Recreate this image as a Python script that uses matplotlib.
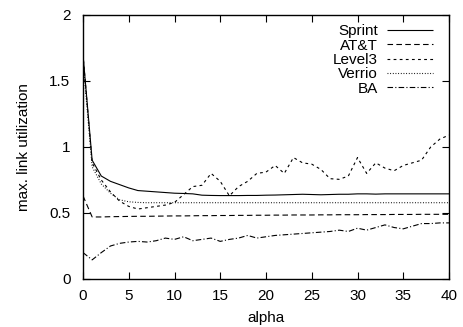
import matplotlib
matplotlib.use("Agg")
import matplotlib.pyplot as plt

plt.rcParams['font.family'] = ['Liberation Sans', 'DejaVu Sans']

alpha = [0, 1, 2, 3, 4, 5, 6, 7, 8, 9, 10, 11, 12, 13, 14, 15, 16, 17, 18, 19, 20,
         21, 22, 23, 24, 25, 26, 27, 28, 29, 30, 31, 32, 33, 34, 35, 36, 37, 38, 39, 40]

sprint = [1.70, 0.90, 0.78, 0.74, 0.715, 0.69, 0.67, 0.665, 0.66, 0.655, 0.65, 0.648, 0.645, 0.635, 0.633,
          0.632, 0.632, 0.632, 0.633, 0.633, 0.635, 0.636, 0.638, 0.64, 0.642, 0.64, 0.638, 0.64, 0.642,
          0.642, 0.645, 0.645, 0.643, 0.645, 0.645, 0.645, 0.645, 0.645, 0.645, 0.645, 0.645]
att = [0.63, 0.47, 0.47, 0.472, 0.473, 0.474, 0.475, 0.475, 0.476, 0.477, 0.478, 0.478, 0.479, 0.48, 0.48,
       0.481, 0.481, 0.482, 0.482, 0.483, 0.483, 0.484, 0.484, 0.485, 0.485, 0.485, 0.486, 0.486, 0.487,
       0.487, 0.487, 0.488, 0.488, 0.488, 0.489, 0.489, 0.489, 0.49, 0.49, 0.49, 0.49]
level3 = [1.70, 0.88, 0.75, 0.66, 0.59, 0.55, 0.53, 0.54, 0.55, 0.56, 0.58, 0.64, 0.70, 0.71, 0.80, 0.74,
          0.63, 0.70, 0.74, 0.80, 0.81, 0.86, 0.80, 0.92, 0.88, 0.87, 0.83, 0.76, 0.755, 0.78, 0.92,
          0.80, 0.88, 0.84, 0.82, 0.86, 0.88, 0.90, 1.00, 1.06, 1.09]
verrio = [1.65, 0.85, 0.72, 0.65, 0.60, 0.585, 0.58, 0.578, 0.578, 0.578, 0.578, 0.578, 0.578, 0.578, 0.578,
          0.578, 0.578, 0.578, 0.578, 0.578, 0.578, 0.578, 0.578, 0.578, 0.578, 0.578, 0.578, 0.578, 0.578,
          0.578, 0.578, 0.578, 0.578, 0.578, 0.578, 0.578, 0.578, 0.578, 0.578, 0.578, 0.578]
ba = [0.20, 0.145, 0.20, 0.25, 0.27, 0.28, 0.285, 0.28, 0.29, 0.31, 0.30, 0.32, 0.29, 0.30, 0.31, 0.285,
      0.30, 0.31, 0.33, 0.31, 0.32, 0.33, 0.335, 0.34, 0.345, 0.35, 0.355, 0.36, 0.37, 0.36, 0.385,
      0.37, 0.39, 0.41, 0.39, 0.38, 0.40, 0.42, 0.42, 0.425, 0.425]

series = [("Sprint", sprint, (0, ())),
          ("AT&T", att, (0, (5, 3))),
          ("Level3", level3, (0, (2.5, 3))),
          ("Verrio", verrio, (0, (0.8, 1.6))),
          ("BA", ba, (0, (5, 2, 1, 2)))]

xticks = [0, 5, 10, 15, 20, 25, 30, 35, 40]
yticks = [0, 0.5, 1, 1.5, 2]
ytick_labels = ["0", "0.5", "1", "1.5", "2"]

fig = plt.figure(figsize=(4.64, 3.27), dpi=100)
ax = fig.add_axes([83/464, 48/327, 366/464, 264/327])

for name, vals, ls in series:
    ax.plot(alpha, vals, color='black', linewidth=0.8, linestyle=ls, label=name)

ax.set_xlim(0, 40)
ax.set_ylim(0, 2)
ax.set_xticks(xticks)
ax.set_xticklabels([str(t) for t in xticks])
ax.set_yticks(yticks)
ax.set_yticklabels(ytick_labels)
ax.tick_params(direction='in', length=5, width=0.8, top=True, right=True, labelsize=11)
ax.tick_params(axis='y', pad=9)
ax.tick_params(axis='x', pad=7)
for s in ax.spines.values():
    s.set_linewidth(1.0)

ax.set_xlabel("alpha", fontsize=11, labelpad=6)
ax.set_ylabel("max. link utilization", fontsize=11, labelpad=13)

leg = ax.legend(loc='upper right', frameon=False, markerfirst=False, fontsize=11,
                handlelength=3.0, handletextpad=0.6, labelspacing=0.02,
                bbox_to_anchor=(0.985, 1.005), borderaxespad=0.3)
for t in leg.get_texts():
    t.set_ha('right')

fig.savefig("out.png", dpi=100)
